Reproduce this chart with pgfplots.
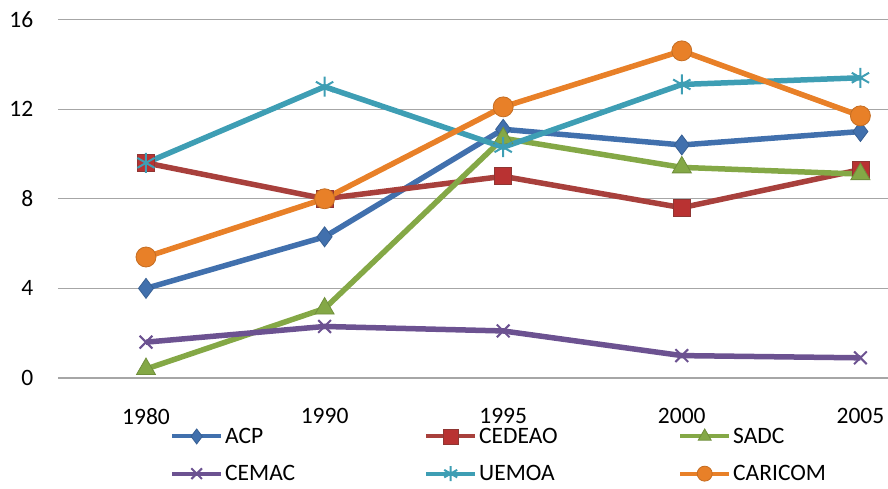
\documentclass[border=0pt]{standalone}
\usepackage{pgfplots}
\pgfplotsset{compat=1.18}
\usepackage{fontspec}
\setmainfont{Carlito}
\usetikzlibrary{calc}

\definecolor{cACP}{HTML}{4170AD}
\definecolor{cCEDEAO}{HTML}{A8403C}
\definecolor{cCEDEAOm}{HTML}{B93232}
\definecolor{cSADC}{HTML}{84A846}
\definecolor{cCEMAC}{HTML}{6C5291}
\definecolor{cUEMOA}{HTML}{3E9EB4}
\definecolor{cCARICOM}{HTML}{E88028}
\definecolor{gridgray}{HTML}{A6A6A6}

\newcommand{\lblfont}{\fontsize{23.5}{28}\selectfont}

\begin{document}
\begin{tikzpicture}
\begin{axis}[
  name=ax,
  scale only axis,
  width=830pt, height=358.5pt,
  xmin=-0.4927, xmax=4.1545,
  ymin=0, ymax=16,
  ytick={0,4,8,12,16},
  xtick={0,1,2,3,4},
  xticklabels={1980,1990,1995,2000,2005},
  axis line style={draw=none},
  major tick length=0pt,
  ymajorgrids,
  grid style={gridgray, line width=1.2pt},
  clip=false,
  /pgf/number format/assume math mode=true,
  tick label style={font=\lblfont, inner sep=0pt},
  yticklabel style={anchor=east, xshift=-24.5pt},
  xticklabel style={anchor=north, yshift=-30pt},
  legend columns=3,
  legend style={
    at={(axis description cs:0,0)}, anchor=north west,
    xshift=112pt, yshift=-47.5pt,
    draw=none, fill=none, inner sep=0pt,
    font=\lblfont, row sep=15.7pt,
    /tikz/every even column/.append style={text width=197pt, text height=16pt, text depth=5pt, inner sep=2pt},
  },
  legend cell align=left,
  legend image code/.code={
    \draw[mark repeat=2, mark phase=2, #1]
      plot coordinates {(0pt,0pt) (24.5pt,0pt) (49pt,0pt)};
  },
  legend image post style={line width=4pt, mark size=7.5pt},
  every axis plot/.append style={line width=5.5pt},
]
% ACP
\addplot[cACP, mark=diamond*, mark size=10pt,
  mark options={solid, fill=cACP, draw=cACP!85!black, line width=0.8pt}]
  coordinates {(0,4.0) (1,6.3) (2,11.1) (3,10.4) (4,11.0)};
\addlegendentry{ACP}
% CEDEAO
\addplot[cCEDEAO, mark=square*, mark size=8.5pt,
  mark options={solid, fill=cCEDEAOm, draw=cCEDEAO!85!black, line width=0.8pt}]
  coordinates {(0,9.6) (1,8.0) (2,9.0) (3,7.6) (4,9.3)};
\addlegendentry{CEDEAO}
% SADC
\addplot[cSADC, mark=triangle*, mark size=11pt,
  mark options={solid, fill=cSADC, draw=cSADC!85!black, line width=0.8pt}]
  coordinates {(0,0.4) (1,3.1) (2,10.7) (3,9.4) (4,9.1)};
\addlegendentry{SADC}
% CEMAC
\addplot[cCEMAC, mark=x, mark size=9pt,
  mark options={solid, line width=2pt}]
  coordinates {(0,1.6) (1,2.3) (2,2.1) (3,1.0) (4,0.9)};
\addlegendentry{CEMAC}
% UEMOA
\addplot[cUEMOA, mark=asterisk, mark size=10pt,
  mark options={solid, line width=2pt}]
  coordinates {(0,9.6) (1,13.0) (2,10.3) (3,13.1) (4,13.4)};
\addlegendentry{UEMOA}
% CARICOM
\addplot[cCARICOM, mark=*, mark size=10pt,
  mark options={solid, fill=cCARICOM, draw=cCARICOM!85!black, line width=0.8pt}]
  coordinates {(0,5.4) (1,8.0) (2,12.1) (3,14.6) (4,11.7)};
\addlegendentry{CARICOM}
\end{axis}
\pgfresetboundingbox
\path ($(ax.south west)+(-58pt,-111pt)$) rectangle ($(ax.north east)+(0pt,19.5pt)$);
\end{tikzpicture}
\end{document}
